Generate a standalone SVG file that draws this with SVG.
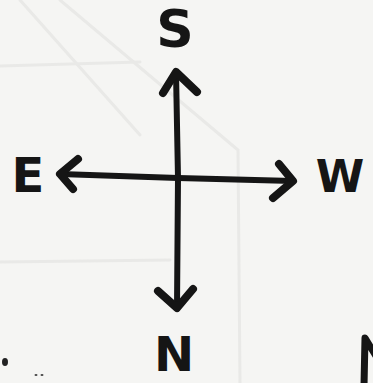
<svg xmlns="http://www.w3.org/2000/svg" width="373" height="383" viewBox="0 0 373 383">
  <defs>
    <style>
      .bg { fill: #f5f5f3; }
      .faint { fill: none; stroke: #e9e9e7; stroke-width: 3; stroke-linecap: round; }
      .shaft { fill: none; stroke: #151515; stroke-width: 6; stroke-linecap: round; }
      .head { fill: none; stroke: #151515; stroke-width: 8; stroke-linecap: round; stroke-linejoin: round; }
      .mark { fill: none; stroke: #151515; stroke-width: 7; stroke-linecap: round; stroke-linejoin: round; }
      .lbl { font-family: "DejaVu Sans", "Liberation Sans", sans-serif; font-weight: bold; fill: #151515; text-anchor: middle; }
    </style>
  </defs>
  <rect class="bg" x="0" y="0" width="373" height="383"/>
  <g id="paper">
    <path class="faint" d="M20,0 L140,135"/>
    <path class="faint" d="M60,0 L238,150 L240,383"/>
    <path class="faint" d="M0,66 L140,62"/>
    <path class="faint" d="M0,262 L170,260"/>
    <ellipse cx="5" cy="362" rx="3" ry="4" fill="#222"/>
    <ellipse cx="36" cy="375" rx="1.5" ry="1" fill="#444"/>
    <ellipse cx="42" cy="375" rx="1.5" ry="1" fill="#444"/>
    <path class="mark" d="M364,386 L365,338 L376,356"/>
  </g>
  <g id="connectors">
    <path class="shaft" d="M176,72 L178,178 L177,308"/>
    <path class="shaft" d="M60,174 L178,178 L293,181"/>
    <path class="head" d="M163,93 L176,72 L197,92"/>
    <path class="head" d="M158,291 L177,308 L193,289"/>
    <path class="head" d="M78,159 L60,174 L73,189"/>
    <path class="head" d="M279,164 L293,181 L273,198"/>
  </g>
  <g id="node-s"><text class="lbl" x="175" y="47" font-size="52">S</text></g>
  <g id="node-e"><text class="lbl" x="28" y="192" font-size="48">E</text></g>
  <g id="node-w"><text class="lbl" x="340" y="192" font-size="44">W</text></g>
  <g id="node-n"><text class="lbl" x="174" y="371" font-size="48">N</text></g>
</svg>
